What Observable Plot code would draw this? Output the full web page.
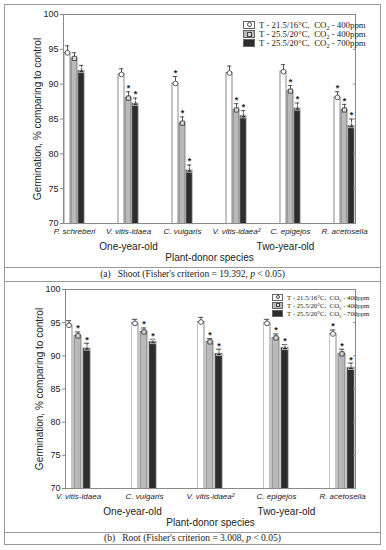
<!DOCTYPE html>
<html>
<head>
<meta charset="utf-8">
<script src="https://cdn.jsdelivr.net/npm/d3@7"></script>
<script src="https://cdn.jsdelivr.net/npm/@observablehq/plot@0.6"></script>
<style>
  body { margin: 0; background: #fff; }
  #fig { position: absolute; left: 4px; top: 4px; width: 375px; border: 1px solid #9a9a9a; background: #fff; }
  .panel { position: relative; }
  .cap { text-align: center; font-family: "Liberation Serif", "Times New Roman", serif; color: #222; white-space: nowrap; }
  .legend { position: absolute; font-family: "Liberation Serif", "Times New Roman", serif; color: #222; white-space: nowrap; }
  .legend .row { display: flex; align-items: center; }
  .legend .sw { box-sizing: border-box; display: inline-flex; align-items: center; justify-content: center; border: 1px solid #666; margin-right: 4px; }
  .legend .mk { box-sizing: border-box; border: 1px solid #444; }
</style>
</head>
<body>
<div id="fig">
  <div id="a" class="panel"></div>
  <div class="cap" style="border-top:1px solid #9a9a9a;border-bottom:1px solid #9a9a9a;height:13px;line-height:13px;font-size:9.5px;">(a)&nbsp;&nbsp; Shoot (Fisher's criterion = 19.392, <i>p</i> &lt; 0.05)</div>
  <div id="b" class="panel"></div>
  <div class="cap" style="border-top:1px solid #9a9a9a;height:11px;line-height:11px;font-size:9.5px;">(b)&nbsp;&nbsp; Root (Fisher's criterion = 3.008, <i>p</i> &lt; 0.05)</div>
</div>
<script>
// ---- data ----
const seriesNames = ["T - 21.5/16°C, CO₂ - 400ppm", "T - 25.5/20°C, CO₂ - 400ppm", "T - 25.5/20°C, CO₂ - 700ppm"];
const seriesColors = ["#ffffff", "#b9b9b9", "#2d2d2d"];
const yTicks = [70, 75, 80, 85, 90, 95, 100];
const yLabel = "Germination, % comparing to control";
const xLabel = "Plant-donor species";

// (a) Shoot
const speciesA = ["P. schreberi", "V. vitis-idaea", "C. vulgaris", "V. vitis-idaea²", "C. epigejos", "R. acetosella"];
const shootS1 = [94.5, 91.4, 90.1, 91.6, 91.8, 88.1];
const shootS2 = [93.7, 88.0, 84.4, 86.3, 89.0, 86.3];
const shootS3 = [91.9, 87.2, 77.6, 85.4, 86.5, 84.0];
const shootE1 = [1.0, 0.8, 1.0, 1.0, 1.0, 0.8];
const shootE2 = [0.8, 0.9, 0.9, 0.9, 0.8, 0.8];
const shootE3 = [0.8, 0.8, 0.8, 0.8, 0.8, 1.0];
const shootSig1 = [0, 0, 1, 0, 0, 1];
const shootSig2 = [0, 1, 1, 1, 1, 1];
const shootSig3 = [0, 1, 1, 1, 1, 1];

// (b) Root
const speciesB = ["V. vitis-idaea", "C. vulgaris", "V. vitis-idaea²", "C. epigejos", "R. acetosella"];
const rootS1 = [94.6, 94.9, 95.1, 94.9, 93.3];
const rootS2 = [93.0, 93.6, 92.1, 92.7, 90.3];
const rootS3 = [91.1, 92.1, 90.3, 91.2, 88.2];
const rootE1 = [0.7, 0.6, 0.7, 0.6, 0.6];
const rootE2 = [0.6, 0.6, 0.5, 0.6, 0.7];
const rootE3 = [0.8, 0.4, 0.7, 0.5, 0.7];
const rootSig1 = [0, 0, 0, 0, 1];
const rootSig2 = [1, 1, 1, 1, 1];
const rootSig3 = [1, 1, 1, 1, 1];

const ageLabels = ["One-year-old", "Two-year-old"];

function rows(species, means, errs, sigs) {
  return species.flatMap((sp, i) => seriesNames.map((s, j) => ({
    species: sp, series: s, k: j, value: means[j][i], err: errs[j][i], hi: means[j][i] + errs[j][i], sig: sigs[j][i]
  })));
}

function panel(species, data, o) {
  return Plot.plot({
    width: 375, height: o.height,
    marginTop: o.mt, marginBottom: 44, marginLeft: 40, marginRight: o.mr,
    style: { fontFamily: "'Liberation Sans', Arial, sans-serif", fontSize: "9px", color: "#222", background: "#fff", overflow: "visible" },
    fx: { domain: species, paddingInner: 0.6, paddingOuter: 0.3 },
    x: { domain: seriesNames, paddingInner: 0.18, paddingOuter: 0, axis: null },
    y: { domain: [70, 100] },
    color: { domain: seriesNames, range: seriesColors },
    symbol: { domain: seriesNames, range: ["circle", "square", "triangle"] },
    marks: [
      Plot.barY(data, { fx: "species", x: "series", y: "value", fill: "series", stroke: "#6e6e6e", strokeWidth: 0.8, clip: true }),
      Plot.ruleX(data, { fx: "species", x: "series", y1: "value", y2: "hi", stroke: "#444", strokeWidth: 0.9 }),
      Plot.tickY(data, { fx: "species", x: "series", y: "hi", stroke: "#444", strokeWidth: 0.9, insetLeft: 0.8, insetRight: 0.8 }),
      Plot.dot(data.filter(d => d.k < 2), { fx: "species", x: "series", y: "value", symbol: "series", r: 2.4, fill: d => d.k === 0 ? "#fff" : "#d6d6d6", stroke: "#333", strokeWidth: 0.8 }),
      Plot.dot(data.filter(d => d.k === 2), { fx: "species", x: "series", y: "value", symbol: "triangle", r: 2.2, fill: "none", stroke: "#cfcfcf", strokeWidth: 0.8 }),
      Plot.text(data.filter(d => d.sig), { fx: "species", x: "series", y: "hi", text: () => "*", dy: -3.5, fontSize: 9, fontWeight: "bold", fill: "#222" }),
      Plot.frame({ facet: "super", stroke: "#8a8a8a" }),
      Plot.axisY({ ticks: yTicks, tickSize: 3, tickPadding: 2, fontSize: 9, stroke: "#8a8a8a", label: null }),
      Plot.axisY({ anchor: "right", ticks: yTicks, tickSize: -3, tickFormat: () => "", stroke: "#8a8a8a", label: null }),
      Plot.axisFx({ anchor: "bottom", tickSize: 0, tickPadding: 4.5, fontSize: 8, fontStyle: "italic", label: null }),
      Plot.text([yLabel], { facet: "super", frameAnchor: "left", textAnchor: "middle", lineAnchor: "middle", rotate: -90, dx: -26, fontSize: 10, fill: "#222" }),
      Plot.text([xLabel], { facet: "super", frameAnchor: "bottom", textAnchor: "middle", lineAnchor: "middle", dy: 34, fontSize: 10, fill: "#222" }),
      ...o.ages.map((a, i) => Plot.text([a], { fx: () => o.ageSpecies[i], text: d => d, frameAnchor: "bottom", lineAnchor: "middle", dy: 23, dx: o.ageDx[i], fontSize: 10, fill: "#222" }))
    ]
  });
}

const dataA = rows(speciesA, [shootS1, shootS2, shootS3], [shootE1, shootE2, shootE3], [shootSig1, shootSig2, shootSig3]);
const dataB = rows(speciesB, [rootS1, rootS2, rootS3], [rootE1, rootE2, rootE3], [rootSig1, rootSig2, rootSig3]);

document.getElementById("a").append(panel(speciesA, dataA, { height: 262, mt: 9, mr: 7, ages: ageLabels, ageSpecies: ["V. vitis-idaea", "C. epigejos"], ageDx: [0, -5] }));
document.getElementById("b").append(panel(speciesB, dataB, { height: 250, mt: 7, mr: 5, ages: ageLabels, ageSpecies: ["C. vulgaris", "C. epigejos"], ageDx: [-12, 10] }));

// legends (inside plot area, top-right)
function legend(parent, o) {
  const div = document.createElement("div");
  div.className = "legend";
  div.style.left = o.left + "px"; div.style.top = o.top + "px"; div.style.fontSize = o.fs + "px";
  seriesNames.forEach((name, j) => {
    const row = document.createElement("div");
    row.className = "row"; row.style.height = o.rh + "px";
    const sw = document.createElement("span");
    sw.className = "sw"; sw.style.width = o.sw + "px"; sw.style.height = o.sh + "px"; sw.style.background = seriesColors[j];
    if (j < 2) {
      const mk = document.createElement("span");
      mk.className = "mk"; mk.style.width = o.mk + "px"; mk.style.height = o.mk + "px";
      mk.style.borderRadius = j === 0 ? "50%" : "0"; mk.style.background = j === 0 ? "#fff" : "#d6d6d6";
      sw.append(mk);
    }
    const t = document.createElement("span");
    const parts = name.split("CO₂");
    t.innerHTML = parts[0].replace(", ", ",&nbsp; ") + "CO<sub style='font-size:70%;vertical-align:-2px;line-height:0'>2</sub>" + parts[1];
    row.append(sw, t);
    div.append(row);
  });
  parent.append(div);
}
legend(document.getElementById("a"), { left: 238, top: 15, fs: 8.8, rh: 9.4, sw: 12, sh: 8, mk: 5 });
legend(document.getElementById("b"), { left: 267, top: 11, fs: 6.8, rh: 8, sw: 11, sh: 7, mk: 4 });
</script>
</body>
</html>
